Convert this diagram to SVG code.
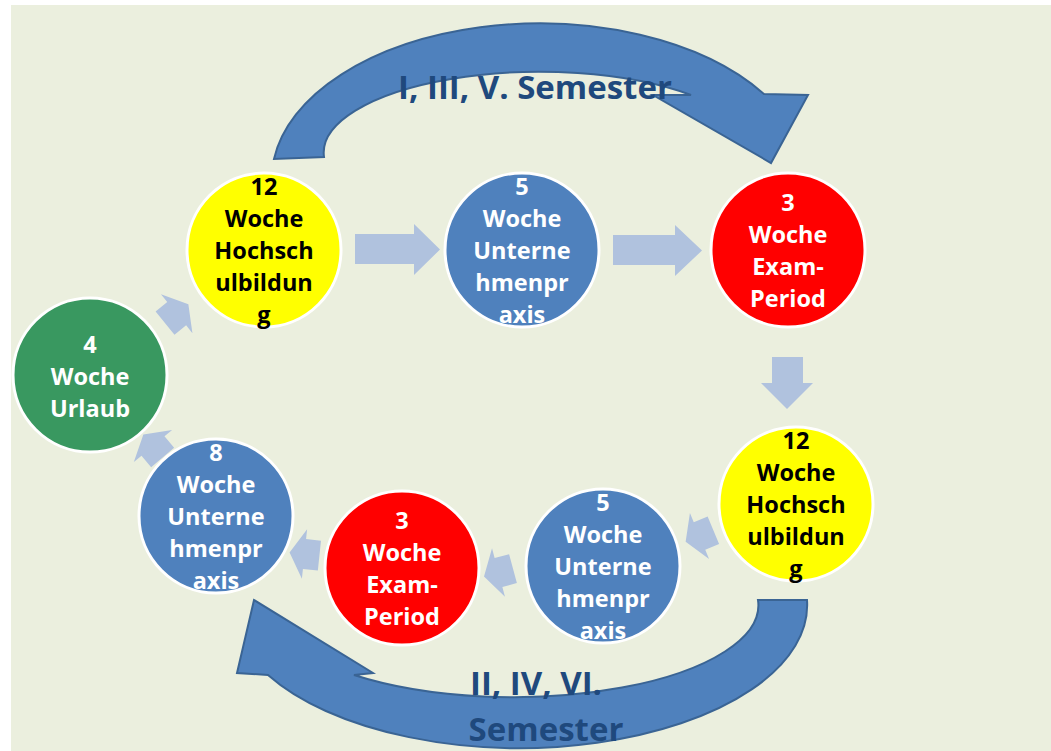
<svg xmlns="http://www.w3.org/2000/svg" width="1051" height="751" viewBox="0 0 1051 751">
<style>
.bg{fill:#EBEFDE}
.big{fill:#4F81BD;stroke:#3A6494;stroke-width:2}
.conn{fill:#B0C2DE}
.node{stroke:#FFFFFF;stroke-width:3}
.t{font-family:"Open Sans","Liberation Sans",sans-serif;font-weight:bold;font-size:23.5px;text-anchor:middle}
.tw{fill:#FFFFFF}
.tb{fill:#000000}
.lbl{font-family:"Open Sans","Liberation Sans",sans-serif;font-weight:bold;font-size:33px;fill:#1F497D;text-anchor:middle}
</style>
<defs>
<polygon id="sa" points="-15,-15 0,-15 0,-25 15,0 0,25 0,15 -15,15"/>
</defs>
<rect x="0" y="0" width="1051" height="751" fill="#FFFFFF"/>
<rect class="bg" x="11" y="5" width="1040" height="746"/>
<g id="semester-arrows">
<path class="big" d="M274,159 A268,156 0 0 1 764,94 L808,95 L771,163 L653,95 L691,95 A216,81 0 0 0 324,157 Z"/>
<path class="big" d="M807,600 A288,143 0 0 1 268,675 L237,673 L254,600 L373,673 L354,675 A245,92 0 0 0 758,600 Z"/>
</g>
<g id="connectors">
<polygon class="conn" points="355,234 414,234 414,224 440,249.5 414,275 414,264 355,264"/>
<polygon class="conn" points="613,235 675,235 675,225 702,250.5 675,276 675,265 613,265"/>
<polygon class="conn" points="772,357 803,357 803,383 813,383 787,409 761,383 772,383"/>
<use href="#sa" class="conn" transform="translate(699.5,536) rotate(157.5)"/>
<use href="#sa" class="conn" transform="translate(498.5,572.5) rotate(165)"/>
<use href="#sa" class="conn" transform="translate(304.5,554) rotate(186)"/>
<use href="#sa" class="conn" transform="translate(153,446) rotate(230)"/>
<use href="#sa" class="conn" transform="translate(176.7,313.7) rotate(-39)"/>
</g>
<g id="n1">
<circle class="node" cx="264" cy="250" r="77" fill="#FFFF00"/>
<text class="t tb" x="264"><tspan x="264" y="195">12</tspan><tspan x="264" y="227">Woche</tspan><tspan x="264" y="259">Hochsch</tspan><tspan x="264" y="291">ulbildun</tspan><tspan x="264" y="323">g</tspan></text>
</g>
<g id="n2">
<circle class="node" cx="522" cy="250" r="77" fill="#4F81BD"/>
<text class="t tw"><tspan x="522" y="195">5</tspan><tspan x="522" y="227">Woche</tspan><tspan x="522" y="259">Unterne</tspan><tspan x="522" y="291">hmenpr</tspan><tspan x="522" y="323">axis</tspan></text>
</g>
<g id="n3">
<circle class="node" cx="788" cy="250" r="77" fill="#FF0000"/>
<text class="t tw"><tspan x="788" y="211">3</tspan><tspan x="788" y="243">Woche</tspan><tspan x="788" y="275">Exam-</tspan><tspan x="788" y="307">Period</tspan></text>
</g>
<g id="n4">
<circle class="node" cx="796" cy="504" r="77" fill="#FFFF00"/>
<text class="t tb"><tspan x="796" y="449">12</tspan><tspan x="796" y="481">Woche</tspan><tspan x="796" y="513">Hochsch</tspan><tspan x="796" y="545">ulbildun</tspan><tspan x="796" y="577">g</tspan></text>
</g>
<g id="n5">
<circle class="node" cx="603" cy="566" r="77" fill="#4F81BD"/>
<text class="t tw"><tspan x="603" y="511">5</tspan><tspan x="603" y="543">Woche</tspan><tspan x="603" y="575">Unterne</tspan><tspan x="603" y="607">hmenpr</tspan><tspan x="603" y="639">axis</tspan></text>
</g>
<g id="n6">
<circle class="node" cx="402" cy="568" r="77" fill="#FF0000"/>
<text class="t tw"><tspan x="402" y="529">3</tspan><tspan x="402" y="561">Woche</tspan><tspan x="402" y="593">Exam-</tspan><tspan x="402" y="625">Period</tspan></text>
</g>
<g id="n7">
<circle class="node" cx="216" cy="516" r="77" fill="#4F81BD"/>
<text class="t tw"><tspan x="216" y="461">8</tspan><tspan x="216" y="493">Woche</tspan><tspan x="216" y="525">Unterne</tspan><tspan x="216" y="557">hmenpr</tspan><tspan x="216" y="589">axis</tspan></text>
</g>
<g id="n8">
<circle class="node" cx="90" cy="375" r="77" fill="#399860"/>
<text class="t tw"><tspan x="90" y="353">4</tspan><tspan x="90" y="385">Woche</tspan><tspan x="90" y="417">Urlaub</tspan></text>
</g>
<g id="labels">
<text class="lbl" x="535" y="99">I, III, V. Semester</text>
<text class="lbl"><tspan x="536" y="695">II, IV, VI.</tspan><tspan x="546" y="741">Semester</tspan></text>
</g>
</svg>
